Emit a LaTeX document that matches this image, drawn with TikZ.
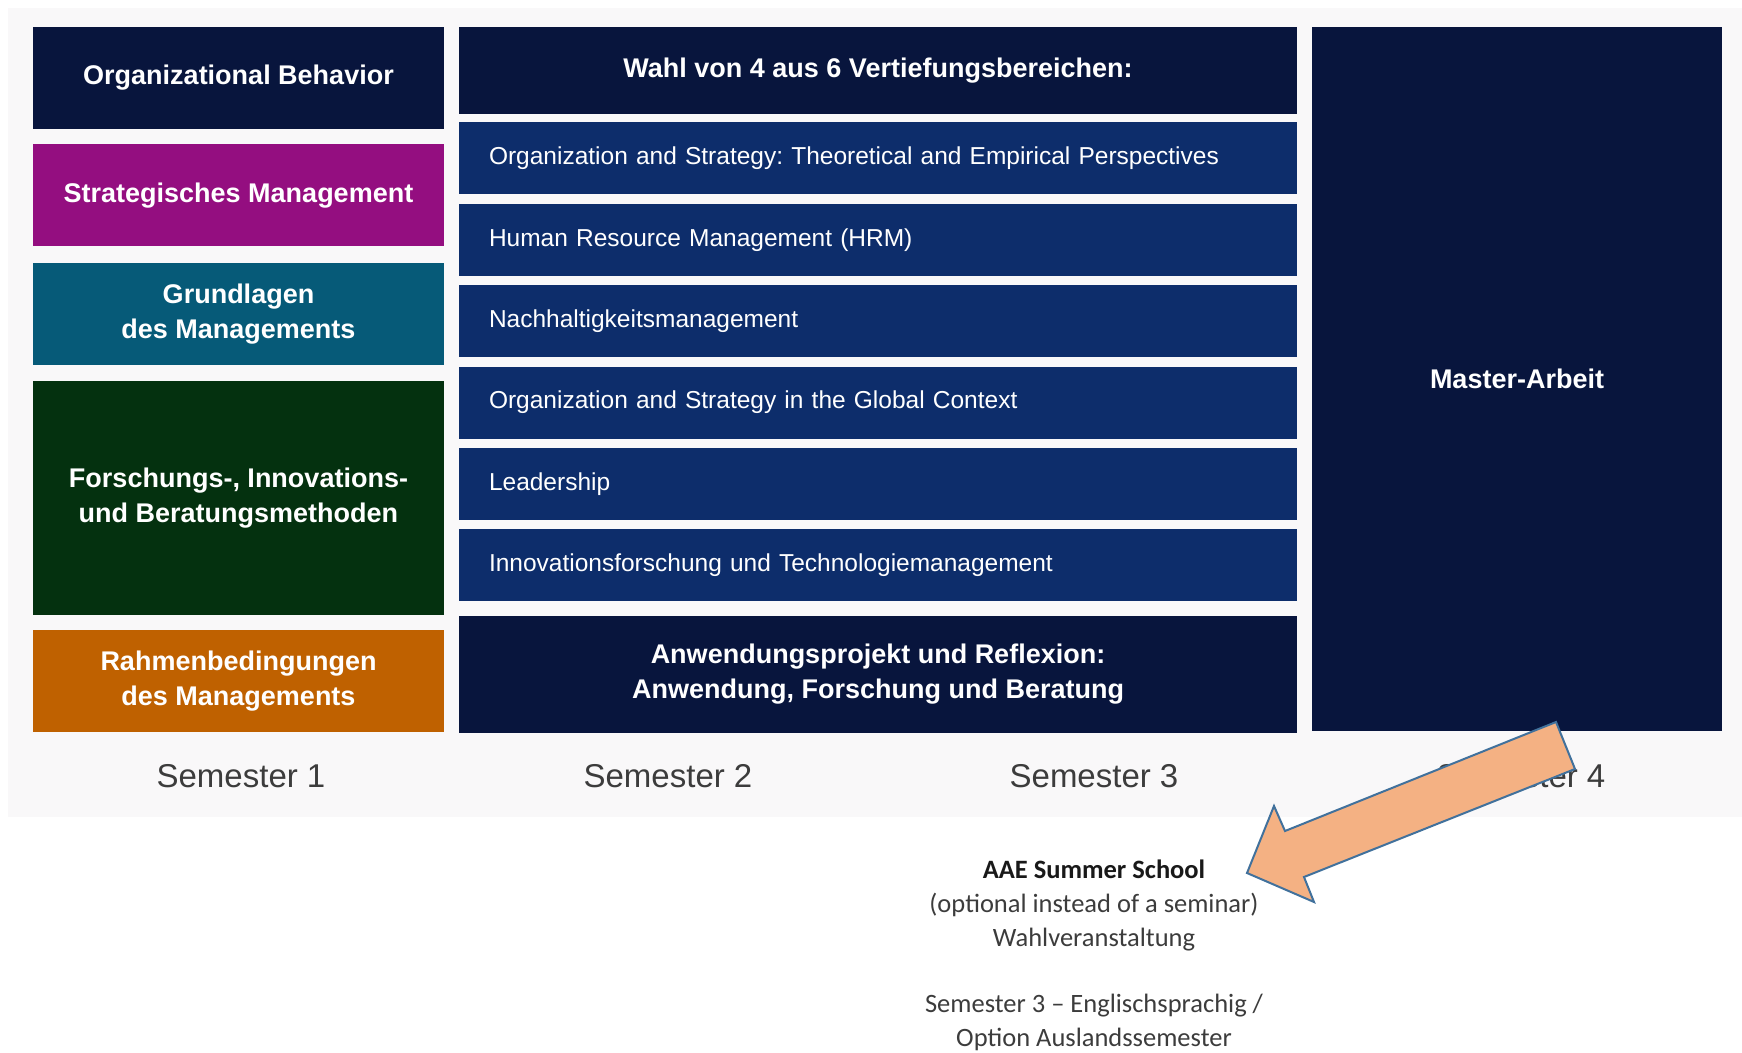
\documentclass[tikz,border=0pt]{standalone}
\usepackage{fontspec}
\setmainfont{Liberation Sans}
\newfontfamily\calibri{Carlito}
\usetikzlibrary{positioning}
\frenchspacing

\definecolor{navy}{HTML}{08153D}
\definecolor{rowblue}{HTML}{0D2D6B}
\definecolor{purple}{HTML}{940E80}
\definecolor{teal}{HTML}{065A78}
\definecolor{forest}{HTML}{04310F}
\definecolor{amber}{HTML}{BF6100}
\definecolor{panel}{HTML}{F9F8F9}
\definecolor{semgray}{HTML}{3C3C3C}
\definecolor{arrowfill}{HTML}{F4B183}
\definecolor{arrowline}{HTML}{41719C}

\begin{document}
\begin{tikzpicture}[x=1pt, y=-1pt]
	\tikzset{box/.style={fill=#1, text=white, inner sep=0pt, align=center, font=\bfseries\fontsize{27}{35}\selectfont},
		leftbox/.style={box=#1, minimum width=411pt, minimum height=102pt},
		row/.style={fill=rowblue, text=white, inner xsep=30pt, inner ysep=0pt, text width=778pt, align=left, minimum height=72pt, font=\fontsize{24.5}{30}\selectfont},
		sem/.style={text=semgray, font=\fontsize{33}{38}\selectfont},
		node distance=9pt}

	\useasboundingbox (0,0) rectangle (1742,1052);
	\fill[panel] (8,8) rectangle (1742,817);

	\node[leftbox=navy] (ob) at (238.5,78) {Organizational Behavior};
	\node[leftbox=purple, below=15pt of ob] (sm) {Strategisches Management};
	\node[leftbox=teal, below=16pt of sm] (gm) {Grundlagen\\des Managements};
	\node[leftbox=forest, minimum height=234pt, below=16pt of gm] (fm) {Forschungs-, Innovations-\\und Beratungsmethoden};
	\node[leftbox=amber, below=14pt of fm] (rm) {Rahmenbedingungen\\des Managements};

	\node[box=navy, minimum width=838pt, minimum height=87pt] (wahl) at (878,70.5) {Wahl von 4 aus 6 Vertiefungsbereichen:};
	\node[row, below=8pt of wahl] (v1) {Organization and Strategy: Theoretical and Empirical Perspectives};
	\node[row, below=of v1] (v2) {Human Resource Management (HRM)};
	\node[row, below=of v2] (v3) {Nachhaltigkeitsmanagement};
	\node[row, below=of v3] (v4) {Organization and Strategy in the Global Context};
	\node[row, below=of v4] (v5) {Leadership};
	\node[row, below=of v5] (v6) {Innovationsforschung und Technologiemanagement};
	\node[box=navy, minimum width=838pt, minimum height=117pt, below=14pt of v6] (ap) {Anwendungsprojekt und Reflexion:\\Anwendung, Forschung und Beratung};

	\node[box=navy, minimum width=410pt, minimum height=704pt] (ma) at (1517,379) {Master-Arbeit};

	\node[sem] (s1) at (241,776) {Semester 1};
	\node[sem] (s2) at (668,776) {Semester 2};
	\node[sem] (s3) at (1094,776) {Semester 3};
	\node[sem] (s4) at (1521,776) {Semester 4};

	\node[align=center, text=semgray, font=\calibri\fontsize{26.5}{34}\selectfont] (aae) at (1094,955)
		{\textcolor{black!90}{\bfseries AAE Summer School}\\(optional instead of a seminar)\\Wahlveranstaltung\\[32pt]Semester 3 – Englischsprachig /\\Option Auslandssemester};

	\draw[arrowline, fill=arrowfill, line width=2pt, line join=miter]
		(1556,722) -- (1575,769) -- (1304,877) -- (1314,902) -- (1247,873) -- (1274,806) -- (1285,831) -- cycle;
\end{tikzpicture}
\end{document}
